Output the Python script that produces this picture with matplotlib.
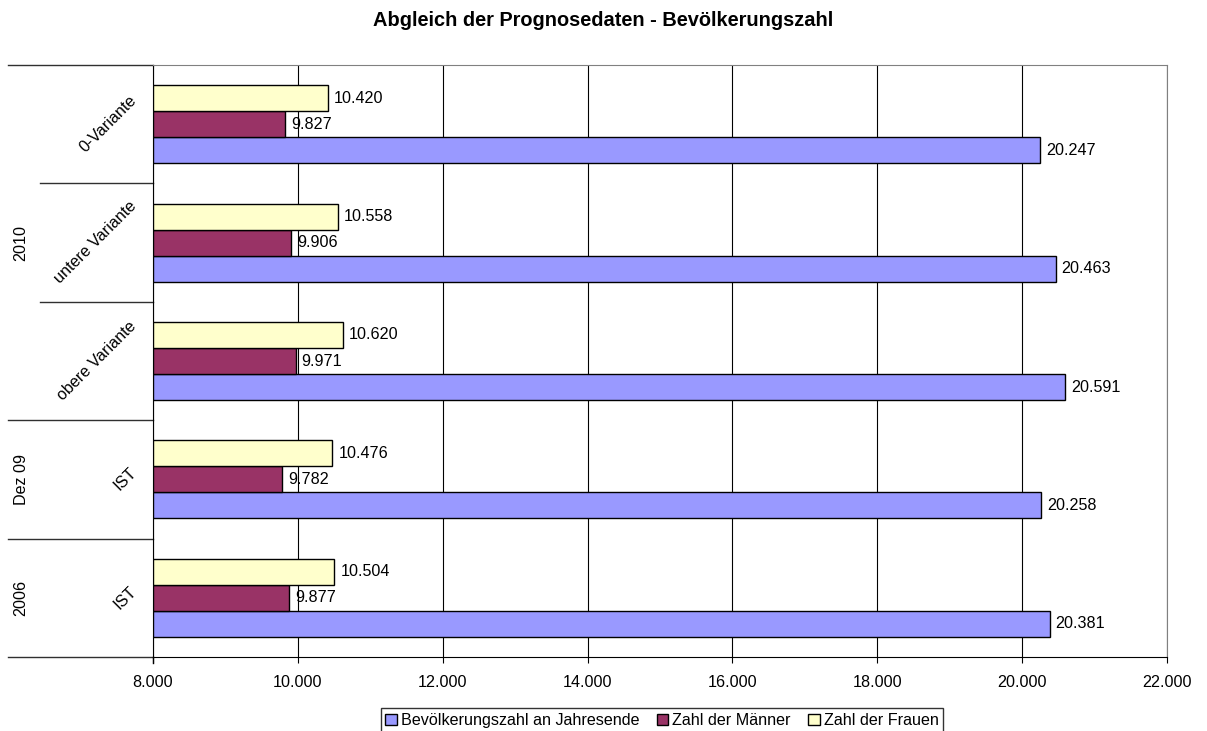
import matplotlib
matplotlib.use("Agg")
import matplotlib.pyplot as plt
import matplotlib.transforms as mtransforms
from matplotlib.patches import Patch

plt.rcParams['font.family'] = ['Liberation Sans', 'DejaVu Sans']

# Data (bottom-to-top order of groups)
outer_labels = ["2006", "Dez 09", "2010"]
outer_spans = [1, 1, 3]
inner_labels = ["IST", "IST", "obere Variante", "untere Variante", "0-Variante"]
bevoelkerung = [20381, 20258, 20591, 20463, 20247]
maenner = [9877, 9782, 9971, 9906, 9827]
frauen = [10504, 10476, 10620, 10558, 10420]
series_names = ["Bevölkerungszahl an Jahresende", "Zahl der Männer", "Zahl der Frauen"]
x_ticks = [8000, 10000, 12000, 14000, 16000, 18000, 20000, 22000]
title = "Abgleich der Prognosedaten - Bevölkerungszahl"

colors = ["#9999FF", "#993366", "#FFFFCC"]
FS = 11.6

W, H = 1207, 731
fig = plt.figure(figsize=(W / 100, H / 100), dpi=100)
L, R, T, B = 153, 1167, 65, 657
ax = fig.add_axes([L / W, 1 - B / H, (R - L) / W, (B - T) / H])

n = len(inner_labels)
bh = 0.22
xmin, xmax = x_ticks[0], x_ticks[-1]
series = [bevoelkerung, maenner, frauen]
offsets = [-bh, 0, bh]
for vals, off, col in zip(series, offsets, colors):
    ys = [i + 0.5 + off for i in range(n)]
    widths = [v - xmin for v in vals]
    ax.barh(ys, widths, left=xmin, height=bh, color=col, edgecolor="black",
            linewidth=1, zorder=3)
    for y, v in zip(ys, vals):
        lab = f"{v:,}".replace(",", ".")
        ax.annotate(lab, (v, y), xytext=(4.3, 0), textcoords="offset points",
                    ha="left", va="center", fontsize=FS, zorder=4)

ax.set_xlim(xmin, xmax)
ax.set_ylim(0, n)
ax.set_xticks(x_ticks)
ax.set_xticklabels([f"{t:,}".replace(",", ".") for t in x_ticks], fontsize=FS)
ax.set_yticks([])
ax.grid(axis="x", color="black", linewidth=0.8, zorder=0)
ax.tick_params(axis="x", length=4, pad=9, color="black")
for s in ["top", "right"]:
    ax.spines[s].set_color("#808080")
ax.spines["left"].set_color("black")
ax.spines["bottom"].set_color("black")

fig.text(0.5, 1 - 21 / H, title, ha="center", va="center",
         fontsize=14.4, fontweight="bold")

# hierarchical category axis
trans = mtransforms.blended_transform_factory(ax.transAxes, ax.transData)
def fx(px):
    return (px - L) / (R - L)

for i, lab in enumerate(inner_labels):
    ax.text(fx(139), i + 0.5, lab, rotation=45, ha="right", va="center",
            fontsize=FS, transform=trans, clip_on=False)

pos = 0
bounds = [0]
for lab, span in zip(outer_labels, outer_spans):
    ax.text(fx(21), pos + span / 2, lab, rotation=90, ha="center", va="center",
            fontsize=FS, transform=trans, clip_on=False)
    pos += span
    bounds.append(pos)

for b in range(n + 1):
    x0 = 8 if b in bounds else 40
    ax.plot([fx(x0), 0], [b, b], color="#303030", linewidth=1,
            transform=trans, clip_on=False)
ax.plot([0, 0], [0, -0.05], color="black", linewidth=1, transform=trans, clip_on=False)

handles = [Patch(facecolor=c, edgecolor="black", linewidth=1) for c in colors]
leg = fig.legend(handles, series_names, loc="upper center", ncol=3,
                 bbox_to_anchor=(662 / W, 1 - 708 / H), fontsize=FS,
                 frameon=True, fancybox=False, edgecolor="black",
                 handlelength=0.7, handleheight=0.7, handletextpad=0.25,
                 columnspacing=1.1, borderpad=0.3, borderaxespad=0)
leg.get_frame().set_linewidth(1)

fig.savefig("out.png", dpi=100)
